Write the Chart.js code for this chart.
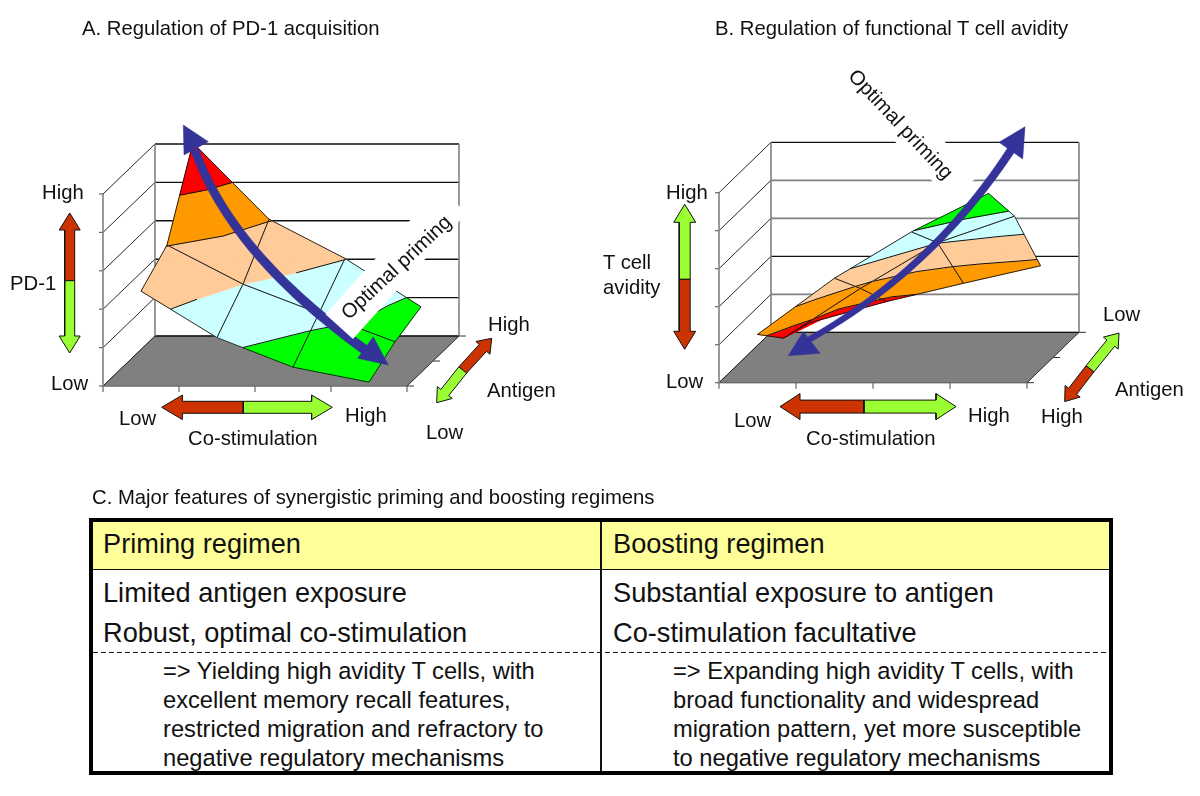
<!DOCTYPE html>
<html>
<head>
<meta charset="utf-8">
<title>PD-1 and T cell avidity</title>
<script src="https://cdn.jsdelivr.net/npm/chart.js@4"></script>
<style>
  html, body { margin: 0; padding: 0; background: #fff; }
  #page { position: relative; width: 1200px; height: 796px; overflow: hidden; }
  #chart { position: absolute; left: 0; top: 0; }
  .lbl { position: absolute; white-space: nowrap; line-height: 1; color: #111;
         font-family: "Liberation Sans", Arial, sans-serif; transform: translateY(-50%); }
  .box { position: absolute; box-sizing: border-box; }
</style>
</head>
<body>
<div id="page"><canvas id="chart" width="1200" height="796"></canvas></div>
<script>
// surface heights, 4 co-stimulation columns per antigen row
const pd1Front = [2.47, 1.26, 0.49, 0.10];
const pd1Middle = [3.02, 2.00, 1.24, 0.50];
const pd1Back = [5.03, 3.04, 2.02, 0.76];
const avidityFront = [1.27, 2.75, 3.97, 4.98];
const avidityMiddle = [0.51, 1.82, 3.02, 3.72];
const avidityBack = [0.25, 0.81, 1.29, 1.75];

const levels = [0, 1, 2, 3, 4, 5];
const bandColorsA = ['#00ff00', '#ccffff', '#ffcc99', '#ff9900', '#ff0000'];
const bandColorsB = ['#ff0000', '#ff9900', '#ffcc99', '#ccffff', '#00ff00'];

const titleA = 'A. Regulation of PD-1 acquisition';
const titleB = 'B. Regulation of functional T cell avidity';
const titleC = 'C. Major features of synergistic priming and boosting regimens';
const tableHeaders = ['Priming regimen', 'Boosting regimen'];
const primingPoints = ['Limited antigen exposure', 'Robust, optimal co-stimulation'];
const boostingPoints = ['Substantial exposure to antigen', 'Co-stimulation facultative'];
const primingNotes = ['=> Yielding high avidity T cells, with', 'excellent memory recall features,', 'restricted migration and refractory to', 'negative regulatory mechanisms'];
const boostingNotes = ['=> Expanding high avidity T cells, with', 'broad functionality and widespread', 'migration pattern, yet more susceptible', 'to negative regulatory mechanisms'];

const panelA = { x0: 103, y0: 386, w: 304, dx: 52, dy: 50, zs: 38.4, grid: ['#111', '#111', '#111', '#111', '#111', '#111'], gridW: [1.4, 1.4, 1.4, 1.4, 1.4, 1.4] };
const panelB = { x0: 719, y0: 382.7, w: 308, dx: 52, dy: 50.4, zs: 38, grid: ['#111', '#808080', '#111', '#808080', '#808080', '#111'], gridW: [1.3, 1.8, 1.3, 1.8, 1.8, 1.3] };

const datasets = [];

function project(p, u, v, z) {
    return { x: p.x0 + u * p.w + v * p.dx, y: p.y0 - v * p.dy - z * p.zs };
}

function addLine(points, color, width) {
    datasets.push({ data: points, showLine: true, fill: false, borderColor: color, borderWidth: width,
        pointRadius: 0, pointHoverRadius: 0, tension: 0 });
}

function addPoly(points, fillColor, lineColor, width) {
    datasets.push({ data: points.concat([points[0]]), showLine: true, fill: 'shape', backgroundColor: fillColor,
        borderColor: lineColor, borderWidth: width, borderJoinStyle: 'miter', pointRadius: 0, pointHoverRadius: 0, tension: 0 });
}

function drawWalls(p) {
    addPoly([project(p, 0, 0, 0), project(p, 1, 0, 0), project(p, 1, 1, 0), project(p, 0, 1, 0)], '#808080', '#808080', 1);
    levels.forEach(function (l, i) {
        addLine([project(p, 0, 1, l), project(p, 1, 1, l)], p.grid[i], p.gridW[i]);
        addLine([project(p, 0, 0, l), project(p, 0, 1, l)], '#111', 0.9);
        // small tick on the front wall edge
        const t = project(p, 0, 0, l);
        addLine([{ x: t.x - 4, y: t.y }, t], '#666', 1.2);
    });
    addLine([project(p, 0, 0, 0), project(p, 1, 0, 0)], '#666', 1.2);
    addLine([project(p, 0, 0, 0), project(p, 0, 0, 5)], '#808080', 1.6);
    addLine([project(p, 0, 1, 0), project(p, 0, 1, 5)], '#808080', 1.6);
    addLine([project(p, 1, 1, 0), project(p, 1, 1, 5)], '#808080', 1.6);
    addLine([project(p, 1, 0, 0), project(p, 1, 1, 0)], '#333', 1);
    for (let i = 0; i <= 4; i++) {
        const a = project(p, i / 4, 0, 0);
        addLine([a, { x: a.x, y: a.y + 6 }], '#666', 1.2);
    }
    for (let i = 0; i <= 2; i++) {
        const a = project(p, 1, i / 2, 0);
        addLine([a, { x: a.x + 7, y: a.y }], '#333', 1);
    }
}

// keep the part of a polygon that lies between two heights
function clipZ(poly, limit, keepAbove) {
    const out = [];
    for (let i = 0; i < poly.length; i++) {
        const a = poly[i], b = poly[(i + 1) % poly.length];
        const aIn = keepAbove ? a.z >= limit : a.z <= limit;
        const bIn = keepAbove ? b.z >= limit : b.z <= limit;
        if (aIn) out.push(a);
        if (aIn !== bIn) {
            const t = (limit - a.z) / (b.z - a.z);
            out.push({ u: a.u + (b.u - a.u) * t, v: a.v + (b.v - a.v) * t, z: limit });
        }
    }
    return out;
}

function drawSurface(p, rows, colors) {
    const node = function (r, c) { return { u: (c + 0.5) / 4, v: r / 2, z: rows[r][c] }; };
    const at = function (n) { return project(p, n.u, n.v, n.z); };
    for (let r = rows.length - 2; r >= 0; r--) {
        for (let c = 0; c < 3; c++) {
            const q = [node(r, c), node(r, c + 1), node(r + 1, c + 1), node(r + 1, c)];
            const mid = {
                u: (q[0].u + q[1].u + q[2].u + q[3].u) / 4,
                v: (q[0].v + q[1].v + q[2].v + q[3].v) / 4,
                z: (q[0].z + q[1].z + q[2].z + q[3].z) / 4
            };
            const contour = [];
            for (let e = 0; e < 4; e++) {
                const tri = [q[e], q[(e + 1) % 4], mid];
                colors.forEach(function (col, b) {
                    const part = clipZ(clipZ(tri, levels[b], true), levels[b + 1], false);
                    if (part.length > 2) addPoly(part.map(at), col, col, 0.7);
                    if (b > 0) {
                        const seg = part.filter(function (n) { return n.z === levels[b]; });
                        if (seg.length === 2) contour.push(seg.map(at));
                    }
                });
            }
            contour.forEach(function (seg) { addLine(seg, '#111', 1); });
            addLine(q.concat([q[0]]).map(at), '#111', 0.9);
        }
    }
}

// one coloured half of a double arrow, from the tip back to the split point
function halfArrow(tip, split, shaft, head, len, color) {
    const d = Math.hypot(split.x - tip.x, split.y - tip.y);
    const ux = (split.x - tip.x) / d, uy = (split.y - tip.y) / d;
    const nx = -uy, ny = ux;
    const hb = { x: tip.x + ux * len, y: tip.y + uy * len };
    addPoly([
        tip,
        { x: hb.x + nx * head, y: hb.y + ny * head },
        { x: hb.x + nx * shaft, y: hb.y + ny * shaft },
        { x: split.x + nx * shaft, y: split.y + ny * shaft },
        { x: split.x - nx * shaft, y: split.y - ny * shaft },
        { x: hb.x - nx * shaft, y: hb.y - ny * shaft },
        { x: hb.x - nx * head, y: hb.y - ny * head }
    ], color, '#111', 1);
}

function doubleArrow(a, split, b, shaft, head, len, colorA, colorB) {
    halfArrow(a, split, shaft, head, len, colorA);
    halfArrow(b, split, shaft, head, len, colorB);
}

// curved shaft that may taper from one end to the other
function blueArrow(s, c, e, w0, w1, headS, headE) {
    const left = [], right = [];
    for (let i = 0; i <= 40; i++) {
        const t = i / 40, m = 1 - t;
        const x = m * m * s.x + 2 * m * t * c.x + t * t * e.x;
        const y = m * m * s.y + 2 * m * t * c.y + t * t * e.y;
        const tx = 2 * m * (c.x - s.x) + 2 * t * (e.x - c.x);
        const ty = 2 * m * (c.y - s.y) + 2 * t * (e.y - c.y);
        const d = Math.hypot(tx, ty), h = (w0 + (w1 - w0) * t) / 2;
        left.push({ x: x - ty / d * h, y: y + tx / d * h });
        right.unshift({ x: x + ty / d * h, y: y - tx / d * h });
    }
    addPoly(left.concat(right), '#333399', '#333399', 0.5);
    addPoly(headS, '#333399', '#333399', 0.5);
    addPoly(headE, '#333399', '#333399', 0.5);
}

drawWalls(panelA);
drawSurface(panelA, [pd1Front, pd1Middle, pd1Back], bandColorsA);
blueArrow({ x: 195, y: 150 }, { x: 232, y: 255 }, { x: 368, y: 352 }, 8, 9.5,
    [{ x: 183.3, y: 125 }, { x: 208.3, y: 141.7 }, { x: 184, y: 155 }],
    [{ x: 388.3, y: 365 }, { x: 357.7, y: 358.3 }, { x: 373.3, y: 336.7 }]);
doubleArrow({ x: 69.7, y: 213 }, { x: 69.7, y: 280.7 }, { x: 69.7, y: 353 }, 5, 10.5, 17, '#cc3300', '#99ff33');
doubleArrow({ x: 161.7, y: 407.3 }, { x: 243.3, y: 407.3 }, { x: 332.3, y: 407.3 }, 6, 12.3, 20.7, '#cc3300', '#99ff33');
doubleArrow({ x: 491.7, y: 338.3 }, { x: 462.7, y: 370 }, { x: 436.7, y: 402.7 }, 5, 9.5, 13, '#cc3300', '#99ff33');

drawWalls(panelB);
drawSurface(panelB, [avidityFront, avidityMiddle, avidityBack], bandColorsB);
blueArrow({ x: 1013, y: 147 }, { x: 932, y: 272 }, { x: 803, y: 343 }, 8, 5.5,
    [{ x: 1025, y: 126.7 }, { x: 999, y: 142.3 }, { x: 1022.7, y: 159 }],
    [{ x: 788.3, y: 355.7 }, { x: 820, y: 353.3 }, { x: 803.3, y: 331.7 }]);
doubleArrow({ x: 684.7, y: 204.3 }, { x: 684.7, y: 279.3 }, { x: 684.7, y: 349.3 }, 5.5, 11, 18, '#99ff33', '#cc3300');
doubleArrow({ x: 780, y: 406.6 }, { x: 864, y: 406.6 }, { x: 956, y: 406.6 }, 6.5, 13, 20, '#cc3300', '#99ff33');
doubleArrow({ x: 1119, y: 333 }, { x: 1090, y: 368.8 }, { x: 1064.7, y: 401.6 }, 5, 9.5, 13, '#99ff33', '#cc3300');

// chart.js paints the first dataset last, so flip to keep painter's order
datasets.reverse();

new Chart(document.getElementById('chart'), {
    type: 'scatter',
    data: { datasets: datasets },
    options: {
        responsive: false,
        animation: false,
        events: [],
        layout: { padding: 0 },
        scales: {
            x: { type: 'linear', display: false, min: 0, max: 1200 },
            y: { type: 'linear', display: false, min: 0, max: 796, reverse: true }
        },
        plugins: { legend: { display: false }, tooltip: { enabled: false } }
    }
});

const page = document.getElementById('page');

function addLabel(text, x, y, size, angle) {
    const el = document.createElement('div');
    el.className = 'lbl';
    el.textContent = text;
    el.style.left = x + 'px';
    el.style.top = y + 'px';
    el.style.fontSize = size + 'px';
    if (angle) {
        el.style.transform = 'translate(-50%,-50%) rotate(' + angle + 'deg)';
    }
    page.appendChild(el);
}

function addBox(x, y, w, h, css) {
    const el = document.createElement('div');
    el.className = 'box';
    el.style.left = x + 'px';
    el.style.top = y + 'px';
    el.style.width = w + 'px';
    el.style.height = h + 'px';
    el.style.cssText += css;
    page.appendChild(el);
}

// white plates behind the rotated captions
addBox(396.4 - 85, 263.6 - 18.3, 170, 36.7, 'background:#fff;transform:rotate(-48deg);');
addBox(905.6 - 85, 126.7 - 18.2, 170, 36.4, 'background:#fff;transform:rotate(46.7deg);');
addLabel('Optimal priming', 396, 266.5, 20.3, -43);
addLabel('Optimal priming', 901, 124, 20.3, 46.7);

const labelSize = 20.3;
addLabel(titleA, 82, 28, labelSize);
addLabel(titleB, 715, 28, labelSize);
addLabel(titleC, 92, 497, labelSize);

addLabel('High', 42, 192, labelSize);
addLabel('PD-1', 10, 283, labelSize);
addLabel('Low', 51, 383, labelSize);
addLabel('Low', 119, 418, labelSize);
addLabel('High', 345, 415, labelSize);
addLabel('Co-stimulation', 188, 438, labelSize);
addLabel('High', 488, 324, labelSize);
addLabel('Antigen', 487, 390, labelSize);
addLabel('Low', 426, 432, labelSize);

addLabel('High', 666, 192, labelSize);
addLabel('T cell', 603, 262, labelSize);
addLabel('avidity', 603, 287, labelSize);
addLabel('Low', 666, 381, labelSize);
addLabel('Low', 734, 420, labelSize);
addLabel('High', 968, 415, labelSize);
addLabel('Co-stimulation', 806, 438, labelSize);
addLabel('Low', 1103, 314, labelSize);
addLabel('Antigen', 1115, 389, labelSize);
addLabel('High', 1041, 416, labelSize);

// table C
addBox(89, 518, 1024, 257, 'border:4px solid #000;background:#fff;');
addBox(93, 522, 1016, 48, 'background:#ffff99;border-bottom:1.5px solid #111;');
addBox(93, 651.5, 1016, 1.5, 'background:repeating-linear-gradient(90deg,#111 0 5px,transparent 5px 8px);');
addBox(600, 522, 1.5, 249, 'background:#111;');

const columns = [
    { x: 103, note: 163, head: tableHeaders[0], points: primingPoints, notes: primingNotes },
    { x: 613, note: 673, head: tableHeaders[1], points: boostingPoints, notes: boostingNotes }
];
columns.forEach(function (col) {
    addLabel(col.head, col.x, 544, 27.2);
    col.points.forEach(function (t, i) { addLabel(t, col.x, 593 + i * 40, 27.2); });
    col.notes.forEach(function (t, i) { addLabel(t, col.note, 672 + i * 29, 23.7); });
});
</script>
</body>
</html>
